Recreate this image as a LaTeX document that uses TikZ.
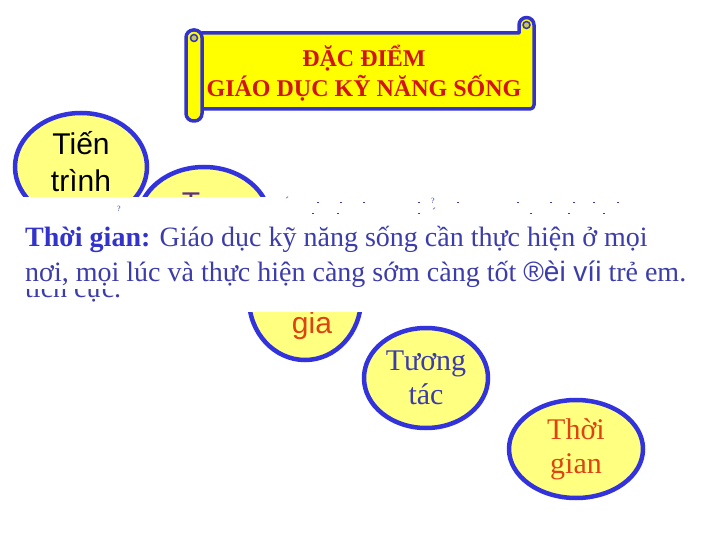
\documentclass[tikz,border=0pt]{standalone}
\usepackage{fontspec}
\setmainfont{Liberation Serif}
\setsansfont{Liberation Sans}
\usetikzlibrary{shapes.geometric}

\definecolor{rimblue}{RGB}{51,51,221}
\definecolor{paleyellow}{RGB}{255,255,128}
\definecolor{scrollyellow}{RGB}{255,255,0}
\definecolor{curlyellow}{RGB}{200,200,90}
\definecolor{titlered}{RGB}{210,20,20}
\definecolor{textblue}{RGB}{60,60,170}
\definecolor{boldblue}{RGB}{51,51,204}
\definecolor{tupurple}{RGB}{96,48,130}
\definecolor{giaorange}{RGB}{221,68,17}

\tikzset{
	scroll/.style={draw=boldblue, line width=3.5pt, fill=scrollyellow, line join=round},
	bubble/.style={ellipse, draw=rimblue, line width=4.5pt, fill=paleyellow, inner sep=0pt, align=center},
	sansbig/.style={font=\sffamily\fontsize{30}{37}\selectfont},
	serifbig/.style={font=\fontsize{30}{34}\selectfont},
	bandtext/.style={anchor=base west, inner sep=0pt, text=textblue, font=\fontsize{28}{34}\selectfont}
}

\begin{document}
\begin{tikzpicture}[x=1pt,y=-1pt]
	\useasboundingbox[fill=white] (0,0) rectangle (720,540);
	
	\draw[scroll] (198,33) -- (519,33) -- (519,25) arc[start angle=180, end angle=360, radius=7.5]
		-- (534,105) [rounded corners=4] -- (534,109) -- (198,109) -- cycle;
	\draw[draw=boldblue, line width=1.5pt, fill=curlyellow] (526.5,25) circle (3.5);
	\draw[scroll, rounded corners=7.5] (186,30) rectangle (202,121);
	\draw[draw=boldblue, line width=1.5pt, fill=curlyellow] (194,38) circle (3.5);
	
	\draw (364,73) node[align=center, text=titlered, font=\bfseries\fontsize{24}{30}\selectfont] (tieude)
	{
		ĐẶC ĐIỂM \\
		GIÁO DỤC KỸ NĂNG SỐNG
	};
	
	\draw (81,167) node[bubble, minimum width=132pt, minimum height=108pt] (tientrinh) {};
	\draw (81,162) node[align=center, sansbig] (tientrinhlabel)
	{
		Tiến \\
		trình
	};
	
	\draw (204,221) node[bubble, minimum width=132pt, minimum height=108pt] (tu) {};
	\draw (305,299) node[bubble, minimum width=112pt, minimum height=122pt] (thamgia) {};
	\draw (201,214) node[anchor=base, inner sep=0pt, text=tupurple, sansbig] (tulabel) {Tự};
	\draw (312,333) node[anchor=base, inner sep=0pt, text=giaorange, sansbig] (gialabel) {gia};
	
	\fill[white] (0,197) rectangle (720,312);
	\draw (25,297) node[bandtext] (tichcuc) {tích cực.};
	\foreach \x/\y in {317/202, 340/202, 363/202, 418/202, 457/202, 517/202, 550/202, 573/202, 593/202, 617/202,
		312/213, 337/213, 418/213, 530/213, 568/213, 603/213}
		\fill[textblue] (\x,\y) rectangle ++(2,1.5);
	\draw (119,209) node[inner sep=0pt, text=textblue, font=\fontsize{8}{8}\selectfont] (dauhoi) {?};
	\draw (287,201) node[inner sep=0pt, text=textblue, font=\fontsize{12}{12}\selectfont] (dausac) {´};
	\draw (433,201) node[inner sep=0pt, text=textblue, font=\fontsize{8}{8}\selectfont] (dauhoi2) {?};
	\draw (434,212) node[inner sep=0pt, text=textblue, font=\fontsize{12}{12}\selectfont] (dausac2) {´};
	
	\fill[white] (0,218) rectangle (720,289);
	\draw (25,247) node[bandtext] (dongmot)
	{\textcolor{boldblue}{\textbf{Thời gian:}} Giáo dục kỹ năng sống cần thực hiện ở mọi};
	\draw (25,281) node[bandtext] (donghai)
	{nơi, mọi lúc và thực hiện càng sớm càng tốt {\sffamily ®èi víi} trẻ em.};
	
	\draw (426,378) node[bubble, minimum width=124pt, minimum height=100pt, text=textblue, serifbig] (tuongtac)
	{
		Tương \\
		tác
	};
	
	\draw (576,449) node[bubble, minimum width=134pt, minimum height=98pt, text=giaorange, serifbig] (thoigian)
	{
		Thời \\
		gian
	};
\end{tikzpicture}
\end{document}
